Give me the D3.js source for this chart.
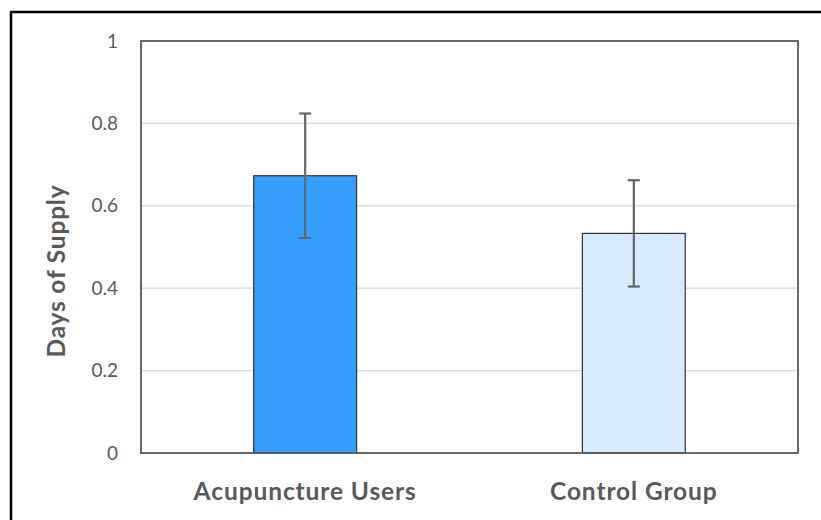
<!DOCTYPE html>
<html><head><meta charset="utf-8">
<script src="https://cdn.jsdelivr.net/npm/d3@7"></script>
<style>body{margin:0;background:#fff}svg{display:block}</style>
</head><body>
<script>
const categories = ["Acupuncture Users", "Control Group"];
const values = [0.673, 0.533];
const errors = [0.151, 0.129];
const yTicks = [0, 0.2, 0.4, 0.6, 0.8, 1];
const barColors = ["#349FFF", "#D6EBFF"];

const W = 821, H = 520;
const m = {left: 141, right: 23, top: 41, bottom: 67};
const svg = d3.select("body").append("svg").attr("width", W).attr("height", H);
const font = "Lato, 'Open Sans', sans-serif";

svg.append("rect").attr("x", 11).attr("y", 12).attr("width", W + 10).attr("height", H + 10)
  .attr("fill", "#fff").attr("stroke", "#000").attr("stroke-width", 2.5);

const x = d3.scaleBand().domain(categories).range([m.left, W - m.right]).paddingInner(0.687).paddingOuter(0.343);
const y = d3.scaleLinear().domain([0, 1]).range([H - m.bottom, m.top]);

// gridlines
svg.append("g").selectAll("line").data(yTicks.filter(t => t > 0 && t < 1)).join("line")
  .attr("x1", m.left).attr("x2", W - m.right)
  .attr("y1", d => y(d)).attr("y2", d => y(d))
  .attr("stroke", "#d9d9d9").attr("stroke-width", 1.2);

// bars
svg.append("g").selectAll("rect").data(categories).join("rect")
  .attr("x", d => x(d)).attr("width", x.bandwidth())
  .attr("y", (d, i) => y(values[i])).attr("height", (d, i) => y(0) - y(values[i]))
  .attr("fill", (d, i) => barColors[i]).attr("stroke", "#333").attr("stroke-width", 1.2);

// error bars
const eg = svg.append("g").attr("stroke", "#666").attr("stroke-width", 2.2);
categories.forEach((c, i) => {
  const cx = x(c) + x.bandwidth() / 2;
  eg.append("line").attr("x1", cx).attr("x2", cx).attr("y1", y(values[i] + errors[i])).attr("y2", y(values[i] - errors[i]));
  [values[i] + errors[i], values[i] - errors[i]].forEach(v => {
    eg.append("line").attr("x1", cx - 6).attr("x2", cx + 6).attr("y1", y(v)).attr("y2", y(v));
  });
});

// plot box
svg.append("rect").attr("x", m.left).attr("y", m.top).attr("width", W - m.right - m.left).attr("height", H - m.bottom - m.top)
  .attr("fill", "none").attr("stroke", "#595959").attr("stroke-width", 1.8);

// y axis tick labels
const yAxis = d3.axisLeft(y).tickValues(yTicks).tickSize(0).tickPadding(23).tickFormat(d3.format("~g"));
const ga = svg.append("g").attr("transform", `translate(${m.left},0)`).call(yAxis);
ga.select(".domain").remove();
ga.selectAll("text").attr("font-family", font).attr("font-size", 19).attr("fill", "#595959");

// x axis labels
const xAxis = d3.axisBottom(x).tickSize(0).tickPadding(30);
const gx = svg.append("g").attr("transform", `translate(0,${H - m.bottom})`).call(xAxis);
gx.select(".domain").remove();
gx.selectAll("text").attr("font-family", font).attr("font-size", 24.5).attr("font-weight", "bold")
  .attr("letter-spacing", "0.9px").attr("fill", "#595959");

// y title
svg.append("text").attr("transform", "translate(65,271) rotate(-90)")
  .attr("text-anchor", "middle").attr("font-family", font).attr("font-size", 24.5).attr("font-weight", "bold")
  .attr("letter-spacing", "0.8px").attr("fill", "#595959").text("Days of Supply");
</script>
</body></html>
